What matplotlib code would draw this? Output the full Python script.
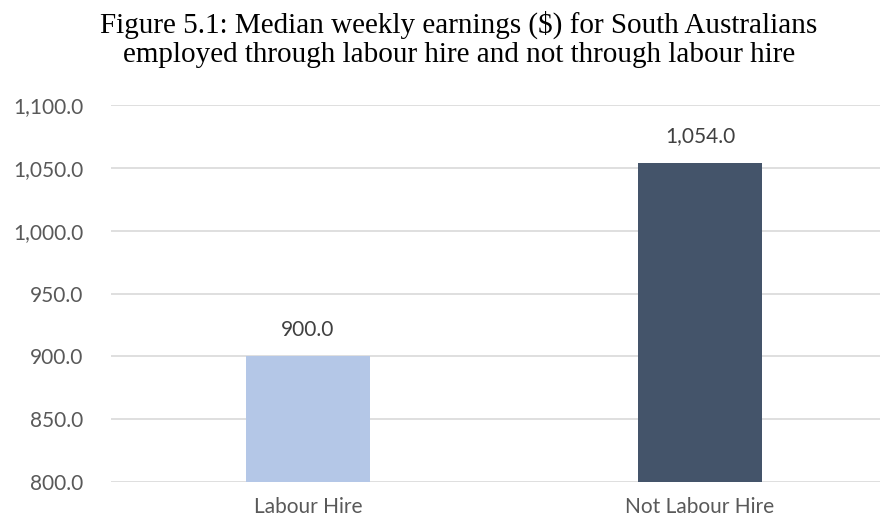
import matplotlib.pyplot as plt

categories = ['Labour Hire', 'Not Labour Hire']
earnings = [900.0, 1054.0]
bar_colors = ['#B4C7E7', '#44546A']
y_ticks = [800, 850, 900, 950, 1000, 1050, 1100]

fig = plt.figure(figsize=(8.81, 5.24), dpi=100)
ax = fig.add_axes([111 / 881, 42 / 524, 769 / 881, 377 / 524])

x = list(range(len(categories)))
ax.bar(x, earnings, width=0.316, color=bar_colors, zorder=3)

# value labels above bars
for xi, v in zip(x, earnings):
    ax.annotate(f'{v:,.1f}', (xi, v), xytext=(0, 19), textcoords='offset points',
                ha='center', va='center', fontsize=15, color='#404040', family='Lato')

ax.set_xlim(-0.5026, 1.459)
ax.set_ylim(800, 1100)
ax.set_yticks(y_ticks)
ax.set_yticklabels([f'{t:,.1f}' for t in y_ticks], family='Lato', fontsize=15, color='#595959')
ax.set_xticks(x)
ax.set_xticklabels(categories, family='Lato', fontsize=15, color='#595959')
ax.tick_params(length=0, pad=20)
ax.tick_params(axis='x', pad=11)
ax.grid(axis='y', color='#d9d9d9', linewidth=1.2, zorder=0)
for s in ax.spines.values():
    s.set_visible(False)

fig.text(459 / 881, 1 - 11 / 524, 'Figure 5.1: Median weekly earnings ($) for South Australians\n'
         'employed through labour hire and not through labour hire',
         ha='center', va='top', fontsize=21, family='Liberation Serif', linespacing=1.15)

fig.savefig('out.png', dpi=100)
